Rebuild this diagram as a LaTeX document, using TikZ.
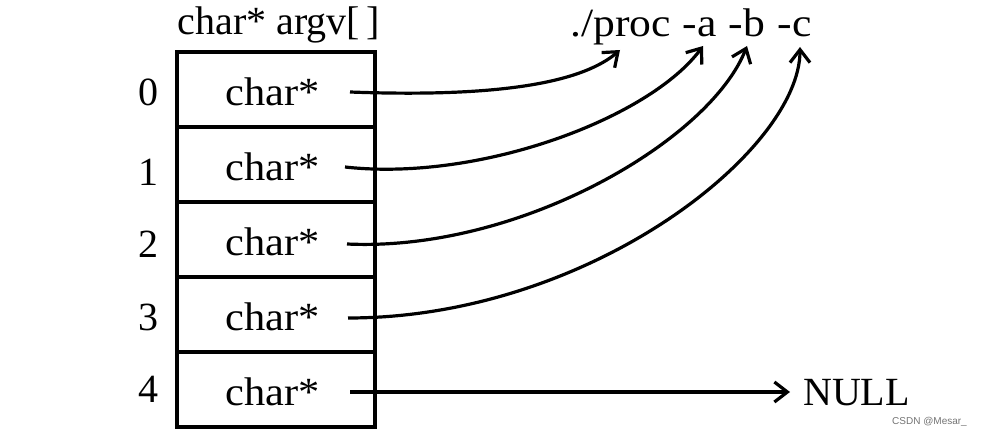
\documentclass[tikz,border=0pt]{standalone}
\usepackage{fontspec}
\usepackage{graphicx}
\setmainfont{Liberation Serif}
\newfontfamily\wmfont{Liberation Sans}
\usetikzlibrary{arrows.meta}
\begin{document}
\begin{tikzpicture}[x=1pt,y=-1pt,
  cell/.style={draw,line width=3.2pt,minimum width=198pt,minimum height=75pt,inner sep=0pt},
  lbl/.style={font=\fontsize{40}{44}\selectfont,inner sep=0pt,anchor=base},
  ptr/.style={line width=3.2pt,-{Straight Barb[length=13pt,width=20pt,line width=3.2pt]}}]
\useasboundingbox (0,0) rectangle (982,436);
% cells
\foreach \i/\y in {0/89.5,1/164.5,2/239.5,3/314.5,4/389.5}{
  \node[cell] (r\i) at (276,\y) {};
}
\foreach \i/\b in {0/105,1/180,2/255,3/330,4/405}{
  \node[lbl] (c\i) at (273,\b) {\scalebox{1.06}[1]{char*}};
}
\foreach \i/\b in {0/105,1/185,2/257,3/330,4/402}{
  \node[lbl] (n\i) at (148,\b) {\i};
}
\node[lbl] (title) at (279,35) {char* argv[\,]};
\node[lbl,anchor=base west] (cmd) at (570,37) {\scalebox{1.09}[1]{./proc\hskip11pt-a\hskip11pt-b\hskip12pt-c}};
\node[lbl,anchor=base west] (null) at (803,405) {NULL};
\node[anchor=base east,inner sep=0pt,text=black!55,font=\wmfont\fontsize{10}{12}\selectfont] (wm) at (967,424) {CSDN @Mesar\_};
% pointer starts and targets
\coordinate (s0) at (350,92);
\coordinate (s1) at (345,167);
\coordinate (s2) at (347,244);
\coordinate (s3) at (348,318);
\coordinate (s4) at (350,392);
\coordinate (t0) at (620,50);
\coordinate (t1) at (703,46);
\coordinate (t2) at (747,46);
\coordinate (t3) at (800,47);
\coordinate (t4) at (790,392);
\draw[ptr] (s0) .. controls (510,98) and (585,80) .. (t0);
\draw[ptr] (s1) .. controls (480,182) and (650,118) .. (t1);
\draw[ptr] (s2) .. controls (520,252) and (710,140) .. (t2);
\draw[ptr] (s3) .. controls (590,318) and (800,150) .. (t3);
\draw[ptr] (s4) -- (t4);
\end{tikzpicture}
\end{document}
